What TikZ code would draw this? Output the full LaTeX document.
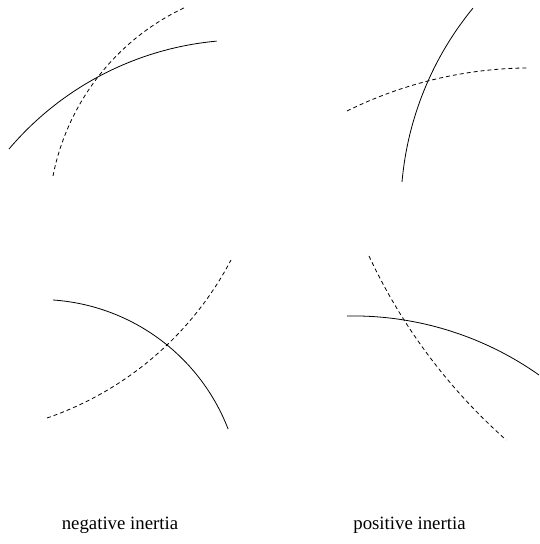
\documentclass[tikz,border=0pt]{standalone}
\usepackage{fontspec}
\setmainfont{Liberation Serif}

\begin{document}
\begin{tikzpicture}[
  x=1pt, y=1pt,
  branch/.style={black, line width=0.8pt},
  other/.style={branch, dash pattern=on 4pt off 3pt},
  casename/.style={font=\fontsize{18.8}{22}\selectfont, anchor=base, inner sep=0pt}]

  \useasboundingbox (0,0) rectangle (540,544);

  % ---- negative inertia ------------------------------------------------
  \draw[branch] (9,395) arc (139.7:95.2:309);
  \draw[other]  (53,368) arc (168.9:115.2:236.1);
  \draw[branch] (53,244) arc (86.1:21.1:202.5);
  \draw[other]  (47,126) arc (-71.06:-27.65:327.8);

  % ---- positive inertia ------------------------------------------------
  \draw[branch] (402,362) arc (175.0:140.6:317.6);
  \draw[other]  (347,433) arc (116.3:90.5:416.3);
  \draw[branch] (347,228) arc (91.07:54.76:322.4);
  \draw[other]  (369,288) arc (-155.0:-131.6:566);

  \node[casename] (neg) at (120,14) {negative inertia};
  \node[casename] (pos) at (409.5,14) {positive inertia};
\end{tikzpicture}
\end{document}
